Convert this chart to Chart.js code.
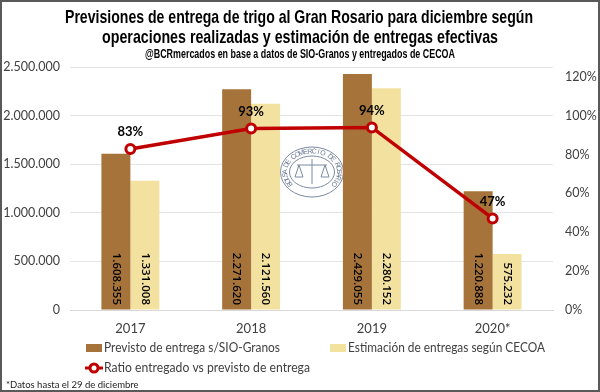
<!DOCTYPE html>
<html>
<head>
<meta charset="utf-8">
<style>
html, body { margin: 0; padding: 0; background: #fff; }
#wrap { position: relative; width: 600px; height: 392px; box-sizing: border-box; border: 2px solid #595959; overflow: hidden; }
canvas { position: absolute; left: -2px; top: -2px; }
</style>
<script src="https://cdn.jsdelivr.net/npm/chart.js@4"></script>
</head>
<body>
<div id="wrap"><canvas id="chart" width="600" height="392"></canvas></div>
<script>
const years = ['2017', '2018', '2019', '2020*'];
const previsto = [1608355, 2271620, 2429055, 1220888];
const estimacion = [1331008, 2121560, 2280152, 575232];
const ratio = [0.828, 0.934, 0.939, 0.471];
const ratioLabels = ['83%', '93%', '94%', '47%'];
const titleLines = [
    'Previsiones de entrega de trigo al Gran Rosario para diciembre según',
    'operaciones realizadas y estimación de entregas efectivas'
];
const subtitleText = '@BCRmercados en base a datos de SIO-Granos y entregados de CECOA';
const footnoteText = '*Datos hasta el 29 de diciembre';

const brown = '#A6743A';
const sand = '#F3E1A0';
const red = '#C00000';
const tickColor = '#404040';

function fmt(v) {
    return v.toLocaleString('de-DE');
}

// sello de la Bolsa detras de las barras
const sealPlugin = {
    id: 'seal',
    beforeDatasetsDraw(chart) {
        const ctx = chart.ctx;
        const cx = 312, cy = 172, r = 31.5, ry = 25;
        ctx.save();
        ctx.fillStyle = '#fff';
        ctx.fillRect(cx - 32, cy - 27, 64, 54);
        ctx.strokeStyle = '#7C8AA3';
        ctx.fillStyle = '#6B7A96';
        ctx.lineWidth = 1;
        ctx.beginPath();
        ctx.ellipse(cx, cy, r, ry, 0, 0, Math.PI * 2);
        ctx.stroke();
        ctx.beginPath();
        ctx.ellipse(cx, cy, r - 9, ry - 9, 0, 0, Math.PI * 2);
        ctx.stroke();
        const text = 'BOLSA DE COMERCIO DE ROSARIO';
        ctx.font = '7px "Liberation Sans", sans-serif';
        ctx.textAlign = 'center';
        ctx.textBaseline = 'middle';
        for (let i = 0; i < text.length; i++) {
            const a = -Math.PI * 1.2 + (i / (text.length - 1)) * Math.PI * 1.4;
            const x = cx + Math.cos(a) * (r - 4.5);
            const y = cy + Math.sin(a) * (ry - 4.5);
            ctx.save();
            ctx.translate(x, y);
            ctx.rotate(a + Math.PI / 2);
            ctx.fillText(text[i], 0, 0);
            ctx.restore();
        }
        // balanza
        ctx.beginPath();
        ctx.moveTo(cx - 15, cy - 7);
        ctx.lineTo(cx + 15, cy - 7);
        ctx.moveTo(cx, cy - 13);
        ctx.lineTo(cx, cy + 12);
        [-1, 1].forEach(s => {
            ctx.moveTo(cx + s * 13, cy - 7);
            ctx.lineTo(cx + s * 9, cy + 5);
            ctx.lineTo(cx + s * 17, cy + 5);
            ctx.closePath();
        });
        ctx.stroke();
        ctx.restore();
    }
};

const labelsPlugin = {
    id: 'labels',
    afterDraw(chart) {
        const ctx = chart.ctx;
        const ds = chart.data.datasets;
        ctx.save();
        ctx.textBaseline = 'middle';

        // titulo y subtitulo condensados a lo ancho del original
        ctx.fillStyle = '#000';
        ctx.textAlign = 'center';
        ctx.font = 'bold 19px "Liberation Sans", sans-serif';
        ctx.fillText(titleLines[0], 299, 18, 468);
        ctx.fillText(titleLines[1], 300, 38, 396);
        ctx.font = 'bold 12px "Liberation Sans", sans-serif';
        ctx.fillText(subtitleText, 300, 55, 310);

        // etiquetas verticales de las barras, ancladas abajo
        ctx.fillStyle = '#000';
        ctx.font = '600 11.5px "Open Sans", sans-serif';
        ctx.textAlign = 'right';
        [1, 2].forEach(d => {
            chart.getDatasetMeta(d).data.forEach((bar, i) => {
                ctx.save();
                ctx.translate(bar.x, 305);
                ctx.rotate(Math.PI / 2);
                ctx.fillText(fmt(ds[d].data[i]), 0, 0, 54);
                ctx.restore();
            });
        });
        // porcentajes sobre la linea
        ctx.textAlign = 'center';
        ctx.font = 'bold 13px Lato, sans-serif';
        chart.getDatasetMeta(0).data.forEach((pt, i) => {
            ctx.fillText(ratioLabels[i], pt.x, pt.y - 17);
        });

        // leyenda
        ctx.font = '13px Lato, sans-serif';
        ctx.textAlign = 'left';
        ctx.fillStyle = brown;
        ctx.fillRect(86, 344, 16, 8);
        ctx.fillStyle = sand;
        ctx.fillRect(330, 344, 16, 8);
        ctx.fillStyle = tickColor;
        ctx.fillText(ds[1].label, 104, 348, 176);
        ctx.fillText(ds[2].label, 348, 348, 197);
        ctx.strokeStyle = red;
        ctx.lineWidth = 3;
        ctx.beginPath();
        ctx.moveTo(85, 368);
        ctx.lineTo(103, 368);
        ctx.stroke();
        ctx.beginPath();
        ctx.arc(94, 368, 4, 0, Math.PI * 2);
        ctx.fillStyle = '#fff';
        ctx.fill();
        ctx.stroke();
        ctx.fillStyle = tickColor;
        ctx.fillText(ds[0].label, 104, 368, 206);

        // nota al pie
        ctx.font = '9.5px Lato, sans-serif';
        ctx.fillStyle = '#222';
        ctx.fillText(footnoteText, 6, 385);
        ctx.restore();
    }
};

new Chart(document.getElementById('chart').getContext('2d'), {
    data: {
        labels: years,
        datasets: [
            {
                type: 'line',
                label: 'Ratio entregado vs previsto de entrega',
                data: ratio,
                yAxisID: 'y1',
                borderColor: red,
                borderWidth: 3.5,
                pointRadius: 4.5,
                pointBorderWidth: 3,
                pointBackgroundColor: '#fff',
                pointBorderColor: red,
                tension: 0,
                order: 0
            },
            {
                type: 'bar',
                label: 'Previsto de entrega s/SIO-Granos',
                data: previsto,
                backgroundColor: brown,
                barPercentage: 1,
                categoryPercentage: 0.48,
                order: 1
            },
            {
                type: 'bar',
                label: 'Estimación de entregas según CECOA',
                data: estimacion,
                backgroundColor: sand,
                barPercentage: 1,
                categoryPercentage: 0.48,
                order: 1
            }
        ]
    },
    options: {
        responsive: false,
        animation: false,
        layout: { padding: { left: 0, right: 0, top: 67, bottom: 0 } },
        plugins: {
            legend: { display: false },
            tooltip: { enabled: false }
        },
        scales: {
            x: {
                afterFit(scale) { scale.height = 82; },
                grid: { display: false },
                border: { color: '#D9D9D9' },
                ticks: { color: tickColor, font: { family: 'Lato', size: 13 }, padding: 3 }
            },
            y: {
                min: 0,
                max: 2500000,
                afterFit(scale) { scale.width = 70; },
                ticks: { stepSize: 500000, color: tickColor, font: { family: 'Lato', size: 12.5 }, padding: 10, callback: v => fmt(v) },
                grid: { color: '#E4E4E4', drawTicks: false },
                border: { display: false }
            },
            y1: {
                position: 'right',
                min: 0,
                max: 1.25,
                afterFit(scale) { scale.width = 47; },
                ticks: { stepSize: 0.2, includeBounds: false, color: tickColor, font: { family: 'Lato', size: 12.5 }, padding: 12, callback: v => Math.round(v * 100) + '%' },
                grid: { display: false, drawTicks: false },
                border: { display: false }
            }
        }
    },
    plugins: [sealPlugin, labelsPlugin]
});
</script>
</body>
</html>
